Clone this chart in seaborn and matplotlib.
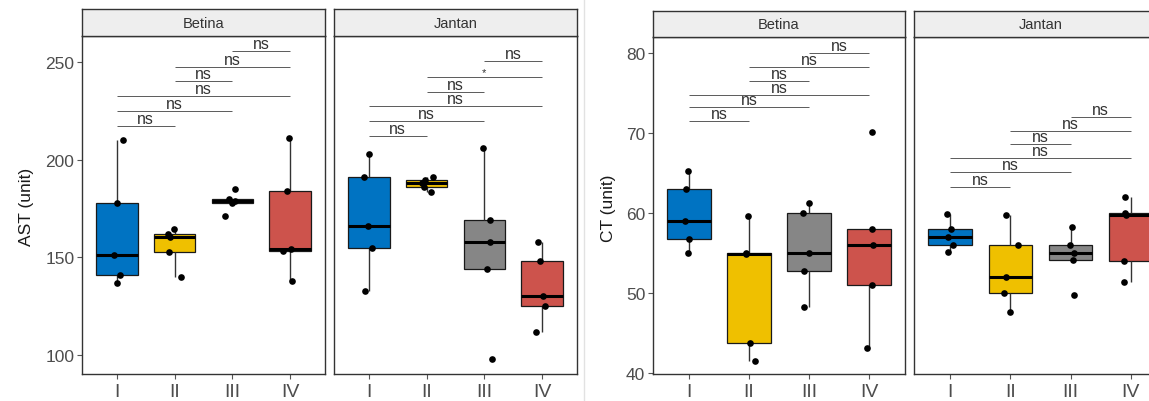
import numpy as np
import pandas as pd
import matplotlib
matplotlib.use("Agg")
import matplotlib.pyplot as plt
import seaborn as sns
from matplotlib.lines import Line2D

# ---------------- data ----------------
groups = ["I", "II", "III", "IV"]
palette = ["#0073C2", "#EFC000", "#868686", "#CD534C"]
sexes = ["Betina", "Jantan"]

# AST (unit)
ast_betina = [[137, 141, 151, 178, 210],
              [140, 152.5, 160.5, 162, 164.5],
              [171, 178, 179, 180, 185],
              [138, 153, 154.5, 184, 211]]
ast_jantan = [[133, 155, 166, 191, 203],
              [183.5, 186, 188, 189.5, 191],
              [98, 144, 158, 169, 206],
              [112, 125, 130, 148, 158]]

# CT (unit)
ct_betina = [[55, 56.8, 59, 63, 65.3],
             [41.5, 43.8, 54.9, 55, 59.6],
             [48.3, 52.8, 55, 60, 61.2],
             [43.1, 51, 56, 58, 70.1]]
ct_jantan = [[55.1, 56, 57, 58, 59.9],
             [47.7, 50, 52, 56, 59.8],
             [49.8, 54.2, 55, 56, 58.3],
             [51.4, 54, 59.8, 60, 62]]

# pairwise comparisons (group index pairs), their bar heights and labels
comparisons = [(0, 1), (0, 2), (0, 3), (1, 2), (1, 3), (2, 3)]
ast_betina_bars = [217.4, 224.8, 232.4, 240.3, 247.4, 255.4]
ast_jantan_bars = [212.3, 219.6, 227.3, 234.8, 242.5, 250.3]
ct_betina_bars = [71.45, 73.25, 74.8, 76.5, 78.25, 80.0]
ct_jantan_bars = [63.3, 65.1, 66.9, 68.6, 70.2, 72.0]
ast_betina_labels = ["ns", "ns", "ns", "ns", "ns", "ns"]
ast_jantan_labels = ["ns", "ns", "ns", "ns", "*", "ns"]
ct_betina_labels = ["ns", "ns", "ns", "ns", "ns", "ns"]
ct_jantan_labels = ["ns", "ns", "ns", "ns", "ns", "ns"]

ast_ticks = [100, 150, 200, 250]
ct_ticks = [40, 50, 60, 70, 80]

# ---------------- style ----------------
sns.set_theme(style="white")
plt.rcParams["font.family"] = ["Liberation Sans", "DejaVu Sans"]

W, H = 1149, 402
fig = plt.figure(figsize=(W / 100, H / 100), dpi=100)
np.random.seed(3)

def frame(px_left, px_top, px_right, px_bottom):
    return [px_left / W, 1 - px_bottom / H, (px_right - px_left) / W, (px_bottom - px_top) / H]

def to_df(values):
    rows = []
    for g, vals in zip(groups, values):
        for v in vals:
            rows.append({"group": g, "value": v})
    return pd.DataFrame(rows)

def panel(rect, strip_rect, title, values, bars, labels, ylim, yticks, show_y):
    ax = fig.add_axes(rect)
    df = to_df(values)
    sns.boxplot(data=df, x="group", y="value", hue="group", order=groups,
                hue_order=groups, palette=palette, width=0.72, linecolor="#1a1a1a",
                linewidth=0.9, showfliers=False, showcaps=False, legend=False,
                saturation=1, whiskerprops=dict(color="#333333", linewidth=1.0),
                medianprops=dict(linewidth=2.2, color="black"), ax=ax)
    sns.stripplot(data=df, x="group", y="value", order=groups, color="black",
                  size=4.8, jitter=0.13, ax=ax)
    for (i, j), yb, lab in zip(comparisons, bars, labels):
        ax.plot([i, j], [yb, yb], color="#5a5a5a", lw=0.7, solid_capstyle="butt")
        ax.text((i + j) / 2, yb, lab, ha="center", va="bottom",
                fontsize=11.5 if lab == "ns" else 8, color="#333333")
    ax.set_xlim(-0.6, 3.6)
    ax.set_ylim(*ylim)
    ax.set_xlabel("")
    ax.set_ylabel("")
    ax.set_yticks(yticks)
    for s in ax.spines.values():
        s.set_color("#333333")
        s.set_linewidth(1.0)
    ax.tick_params(axis="x", length=3.5, width=0.8, color="#555555",
                   labelsize=14, labelcolor="#4D4D4D", pad=3, bottom=True)
    if show_y:
        ax.tick_params(axis="y", length=3.5, width=0.8, color="#555555",
                       labelsize=12.5, labelcolor="#4D4D4D", pad=2, left=True)
    else:
        ax.tick_params(axis="y", left=False, labelleft=False)
    ax.grid(False)
    sx = fig.add_axes(strip_rect)
    sx.set_facecolor("#EEEEEE")
    sx.set_xticks([])
    sx.set_yticks([])
    for s in sx.spines.values():
        s.set_color("#333333")
        s.set_linewidth(1.0)
    sx.text(0.5, 0.5, title, ha="center", va="center", fontsize=10.5,
            color="#333333", transform=sx.transAxes)
    return ax

ast_lim = (90.3, 263.3)
ct_lim = (39.9, 82.0)

panel(frame(82, 37, 325, 375), frame(82, 10, 325, 37), "Betina",
      ast_betina, ast_betina_bars, ast_betina_labels, ast_lim, ast_ticks, True)
panel(frame(334, 37, 577, 375), frame(334, 10, 577, 37), "Jantan",
      ast_jantan, ast_jantan_bars, ast_jantan_labels, ast_lim, ast_ticks, False)
panel(frame(653, 38, 905, 375), frame(653, 12, 905, 38), "Betina",
      ct_betina, ct_betina_bars, ct_betina_labels, ct_lim, ct_ticks, True)
panel(frame(914, 38, 1167, 375), frame(914, 12, 1167, 38), "Jantan",
      ct_jantan, ct_jantan_bars, ct_jantan_labels, ct_lim, ct_ticks, False)

fig.text(26 / W, 1 - 207 / H, "AST (unit)", rotation=90, ha="center", va="center",
         fontsize=12.5, color="#1a1a1a")
fig.text(608 / W, 1 - 208 / H, "CT (unit)", rotation=90, ha="center", va="center",
         fontsize=12.5, color="#1a1a1a")
fig.add_artist(Line2D([584 / W, 584 / W], [0, 1], color="#e2e2e2", lw=1.0))

fig.savefig("out.png", dpi=100)
